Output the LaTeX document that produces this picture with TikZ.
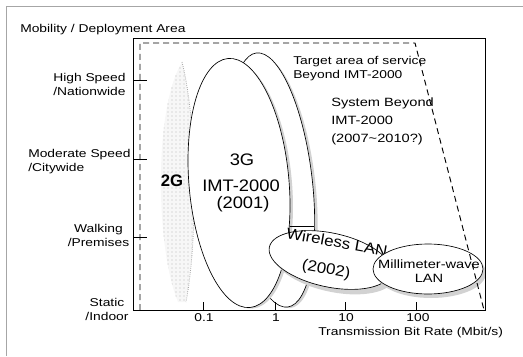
\documentclass[tikz,border=0pt]{standalone}
\usepackage{fontspec}
\setmainfont{Liberation Sans}
\newfontfamily\labf[FakeStretch=1.22]{Liberation Sans}
\newfontfamily\bigf[FakeStretch=1.1]{Liberation Sans}
\usetikzlibrary{patterns}
\begin{document}
\begin{tikzpicture}[x=0.75pt,y=-0.75pt,
  lab/.style={font=\labf\fontsize{8.5}{10.5}\selectfont, inner sep=0pt},
  midlab/.style={font=\labf\fontsize{9}{13.5}\selectfont, inner sep=0pt},
  bigl/.style={font=\bigf\fontsize{12.5}{15}\selectfont, inner sep=0pt},
  wlab/.style={font=\bigf\fontsize{11.5}{14}\selectfont, inner sep=0pt},
  shadowc/.style={fill=gray!35},
  outl/.style={draw=black, line width=0.5pt, fill=white},
  dsh/.style={dashed, dash pattern=on 4.5pt off 3pt, line width=0.7pt}]
\useasboundingbox (0,0) rectangle (523,356);
% outer frame
\draw[gray!70, line width=0.6pt] (6,356) -- (6,6) -- (523,6);
% 2G stipple region
\fill[gray!6] (178,302) .. controls (156,250) and (153,110) .. (182,62) .. controls (197,120) and (198,240) .. (186,302) -- cycle;
\fill[pattern=dots, pattern color=gray!55] (178,302) .. controls (156,250) and (153,110) .. (182,62) .. controls (197,120) and (198,240) .. (186,302) -- cycle;
\draw[gray!70, densely dotted, line width=0.6pt] (182,62) .. controls (197,120) and (198,240) .. (186,302);
% ellipse B (beyond IMT-2000)
\fill[shadowc, rotate around={7:(275,182)}] (275,182) ellipse [x radius=40, y radius=127];
\draw[outl, rotate around={7:(272,180)}] (272,180) ellipse [x radius=40, y radius=128];
% ellipse A (3G)
\fill[shadowc, rotate around={5:(242,185)}] (242,185) ellipse [x radius=50, y radius=124];
\draw[outl, rotate around={5:(239,183)}] (239,183) ellipse [x radius=50, y radius=125];
\draw[line width=0.5pt] (290,226) -- (314,226);
% Wireless LAN
\fill[shadowc, rotate around={-12:(334,265)}] (334,265) ellipse [x radius=62, y radius=27];
\draw[outl, rotate around={-12:(330,260)}] (330,260) ellipse [x radius=62, y radius=27];
\node[wlab, rotate=-10] (wlan) at (337,242) {Wireless LAN};
\node[wlab, rotate=-10] (wlany) at (326,270) {(2002)};
% Millimeter-wave LAN
\fill[shadowc] (431,273) ellipse [x radius=55, y radius=25];
\draw[outl] (428,269) ellipse [x radius=55, y radius=25];
\node[midlab, align=center, font=\labf\fontsize{9}{10.5}\selectfont] (mmw) at (429,271) {Millimeter-wave\\LAN};
% plot box
\draw[line width=0.7pt] (133,38) rectangle (485,310);
% y ticks
\foreach \yy in {80,159,237} \draw[line width=0.6pt] (133,\yy) -- (147,\yy);
% x ticks
\foreach \xx in {203,275,345,416} \draw[line width=0.6pt] (\xx,310) -- (\xx,302);
% target area dashed
\coordinate (t1) at (140,310);
\coordinate (t2) at (140,43);
\coordinate (t3) at (415,43);
\coordinate (t4) at (484,310);
\draw[dsh] (t1) -- (t2) -- (t3) -- (t4);
% labels
\node[lab, anchor=west] (ylab) at (20,30) {Mobility / Deployment Area};
\node[lab, anchor=west, align=left] (hs) at (53,84) {High Speed\\/Nationwide};
\node[lab, anchor=west, align=left] (ms) at (28,162) {Moderate Speed\\/Citywide};
\node[lab, align=center] (wk) at (98.5,235) {Walking\\/Premises};
\node[lab, align=center] (st) at (107,309) {Static\\/Indoor};
\node[lab] (x1) at (204,318) {0.1};
\node[lab] (x2) at (276,318) {1};
\node[lab] (x3) at (346,318) {10};
\node[lab] (x4) at (418,318) {100};
\node[lab, anchor=west] (xlab) at (318,333) {Transmission Bit Rate (Mbit/s)};
\node[lab, anchor=west, align=left] (tgt) at (293,69) {Target area of service\\Beyond IMT-2000};
\node[midlab, anchor=west, align=left] (sys) at (331,121) {System Beyond\\IMT-2000\\(2007\textasciitilde 2010?)};
\node[bigl] (g3) at (242,160) {3G};
\node[bigl] (imt) at (241,186) {IMT-2000};
\node[bigl] (y01) at (243,204) {(2001)};
\node[font=\bfseries\fontsize{12.5}{14}\selectfont, inner sep=0pt] (g2) at (172,181) {2G};
\end{tikzpicture}
\end{document}
